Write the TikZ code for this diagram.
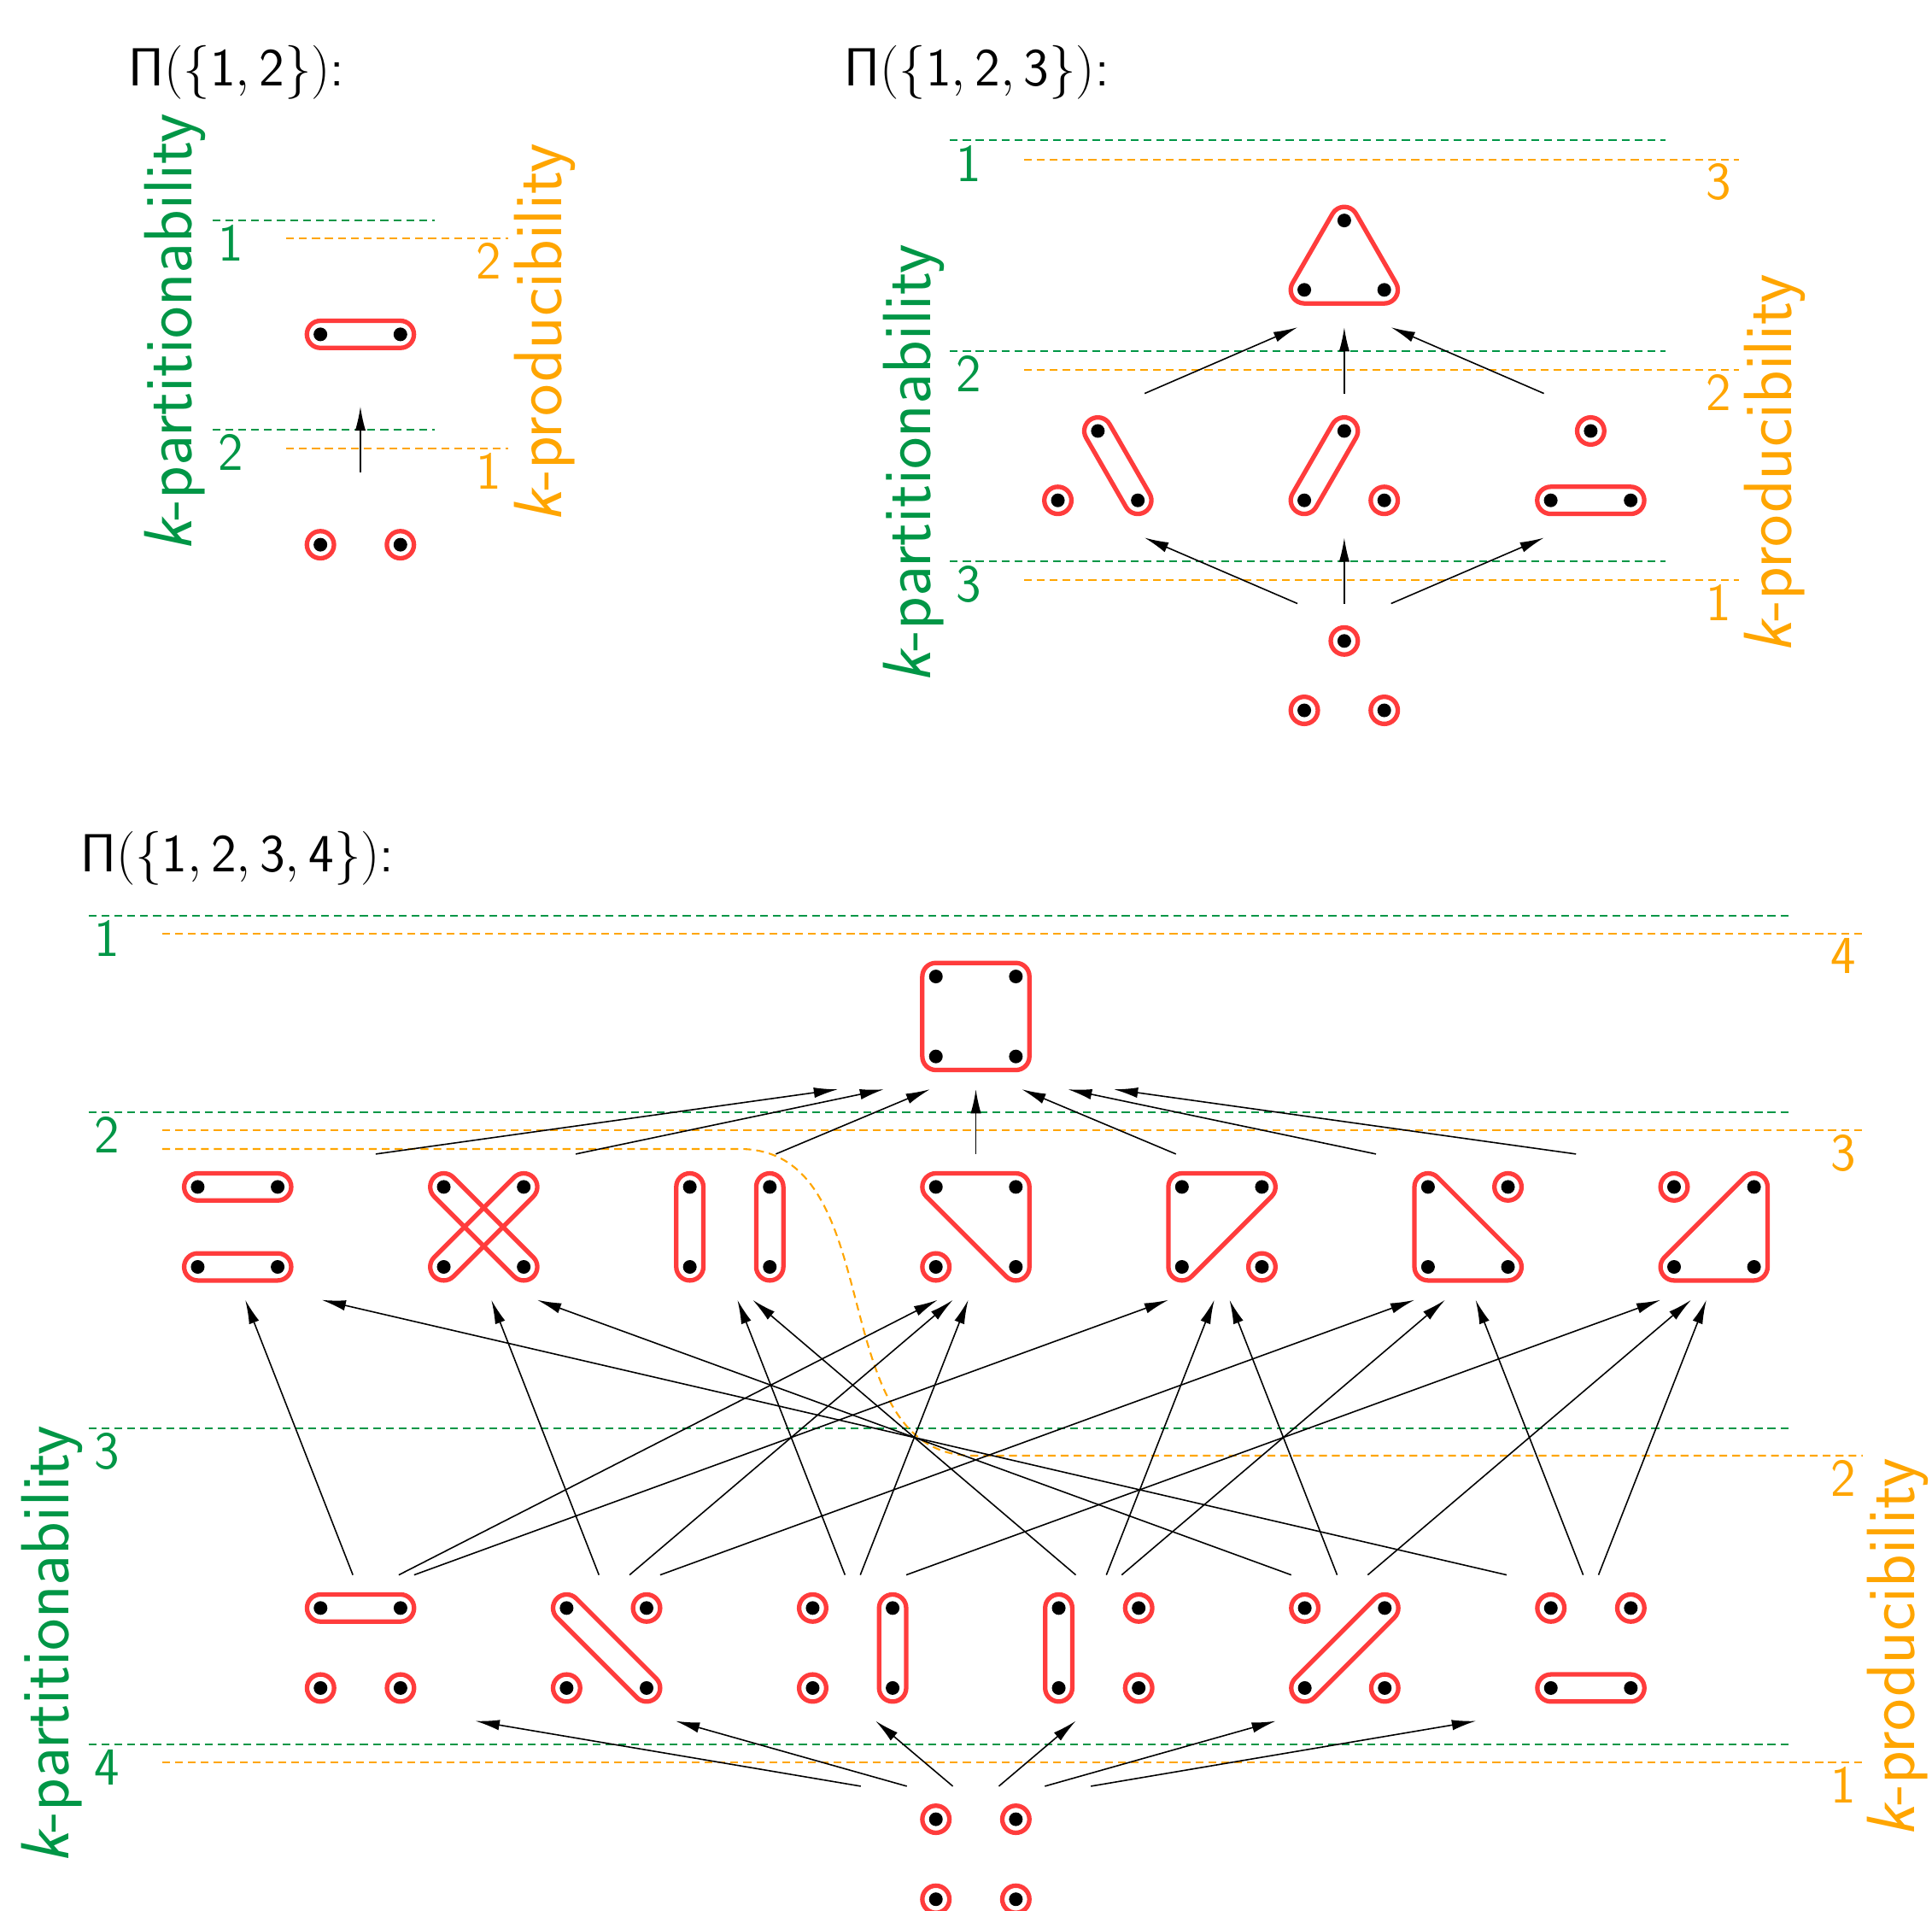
\RequirePackage{fix-cm}
\documentclass[tikz,border=0pt]{standalone}
\usetikzlibrary{calc,arrows.meta}
\definecolor{pgreen}{RGB}{0,150,70}
\definecolor{porange}{RGB}{255,165,0}
\definecolor{pred}{RGB}{255,60,60}
\newcommand\ringr{0.1587cm}
\newcommand\dotr{0.08cm}
\newcommand\labfont{\fontsize{17.8}{21}\selectfont\sffamily}
\newcommand\ttlfont{\fontsize{17.9}{22}\selectfont\sffamily}
\newcommand\axfont{\fontsize{22.7}{27}\selectfont\sffamily}
\tikzset{
  blk/.style={draw=pred, line width=1.5pt},
  arr/.style={-{Latex[length=8pt,width=3.5pt]}, line width=0.45pt},
  gline/.style={draw=pgreen, line width=0.6pt, dash pattern=on 2.6pt off 1.7pt},
  oline/.style={draw=porange, line width=0.6pt, dash pattern=on 2.6pt off 1.7pt},
  glab/.style={text=pgreen, font=\labfont, inner sep=0pt},
  olab/.style={text=porange, font=\labfont, inner sep=0pt},
  axg/.style={text=pgreen, font=\axfont, rotate=90, inner sep=0pt},
  axo/.style={text=porange, font=\axfont, rotate=90, inner sep=0pt},
  ttl/.style={font=\ttlfont, inner sep=0pt, anchor=base west}
}
\newcommand\ringat[1]{\draw[blk] (#1) circle[radius=\ringr];}
\newcommand\dotat[1]{\fill (#1) circle[radius=\dotr];}
\newcommand\caps[2]{%
  \draw[blk] let \p1=(#1), \p2=(#2), \n1={atan2(\y2-\y1,\x2-\x1)}, \n2={\n1+90}, \n3={\n1-90} in
  ($(\p1)+(\n2:\ringr)$) -- ($(\p2)+(\n2:\ringr)$) arc[start angle=\n2, delta angle=-180, radius=\ringr]
  -- ($(\p1)+(\n3:\ringr)$) arc[start angle=\n3, delta angle=-180, radius=\ringr] -- cycle;}
\newcommand\tri[3]{%
  \draw[blk] let \p1=(#1), \p2=(#2), \p3=(#3),
   \n1={atan2(\y2-\y1,\x2-\x1)-90}, \n2={atan2(\y3-\y2,\x3-\x2)-90}, \n3={atan2(\y1-\y3,\x1-\x3)-90},
   \n4={mod(\n2-\n1+720,360)}, \n5={mod(\n3-\n2+720,360)}, \n6={mod(\n1-\n3+720,360)} in
  ($(\p1)+(\n1:\ringr)$) -- ($(\p2)+(\n1:\ringr)$) arc[start angle=\n1, delta angle=\n4, radius=\ringr]
  -- ($(\p3)+(\n2:\ringr)$) arc[start angle=\n2, delta angle=\n5, radius=\ringr]
  -- ($(\p1)+(\n3:\ringr)$) arc[start angle=\n3, delta angle=\n6, radius=\ringr] -- cycle;}
\newcommand\quadpts[3]{%
  \coordinate (#1) at (#2,#3);
  \coordinate (#1a) at ($(#1)+(-32.45,-32.45)$);
  \coordinate (#1b) at ($(#1)+(32.45,-32.45)$);
  \coordinate (#1c) at ($(#1)+(-32.45,32.45)$);
  \coordinate (#1d) at ($(#1)+(32.45,32.45)$);
  \coordinate (#1N) at ($(#1)+(0,-43.45)$);
  \coordinate (#1S) at ($(#1)+(0,43.45)$);
  \foreach \q in {a,b,c,d}{\dotat{#1\q}}}
\newcommand\tripts[3]{%
  \coordinate (#1t) at (#2,#3);
  \coordinate (#1) at ($(#1t)+(0,28.15)$);
  \coordinate (#1l) at ($(#1t)+(-32.45,56.3)$);
  \coordinate (#1r) at ($(#1t)+(32.45,56.3)$);
  \coordinate (#1N) at ($(#1t)+(0,-14)$);
  \coordinate (#1S) at ($(#1t)+(0,70.3)$);
  \foreach \q in {t,l,r}{\dotat{#1\q}}}
\newcommand\pairpts[3]{%
  \coordinate (#1) at (#2,#3);
  \coordinate (#1l) at ($(#1)+(-32.45,0)$);
  \coordinate (#1r) at ($(#1)+(32.45,0)$);
  \coordinate (#1N) at ($(#1)+(0,-11)$);
  \coordinate (#1S) at ($(#1)+(0,11)$);
  \foreach \q in {l,r}{\dotat{#1\q}}}
\newcommand\arrw[4]{\draw[arr] ($(#1)!#3!(#2)$) -- ($(#1)!#4!(#2)$);}
\newcommand\gl[3]{\draw[gline] (#1,#3) -- (#2,#3);}
\newcommand\ol[3]{\draw[oline] (#1,#3) -- (#2,#3);}
\begin{document}
\begin{tikzpicture}[x=0.014426cm, y=-0.014426cm]
\useasboundingbox (0,0) rectangle (1568,1550.6);

%% ---------------- Pi({1,2}) ----------------
\node[ttl] (tltitle) at (104,70) {$\mathsf{\Pi(\{1,2\})}$:};
\gl{172.5}{352.5}{178.6} \gl{172.5}{352.5}{348.7}
\ol{232.3}{412.5}{193.1} \ol{232.3}{412.5}{363.8}
\node[glab] (tlg1) at (187.5,197.1) {1};
\node[glab] (tlg2) at (187.5,367.2) {2};
\node[olab] (tlo2) at (396.5,211.6) {2};
\node[olab] (tlo1) at (396.5,382.3) {1};
\node[axg] (tlpart) at (142.3,269.9) {{\slshape k}-partitionability};
\node[axo] (tlprod) at (442,270) {{\slshape k}-producibility};
\pairpts{LT}{292.5}{271.3} \caps{LTl}{LTr}
\pairpts{LB}{292.5}{442} \ringat{LBl} \ringat{LBr}
\arrw{LBN}{LTS}{0.32}{0.68}

%% ---------------- Pi({1,2,3}) ----------------
\node[ttl] (trtitle) at (685,70) {$\mathsf{\Pi(\{1,2,3\})}$:};
\gl{771}{1351.5}{113.9} \gl{771}{1351.5}{284.7} \gl{771}{1351.5}{455.5}
\ol{831}{1411.5}{129.4} \ol{831}{1411.5}{300.2} \ol{831}{1411.5}{470.4}
\node[glab] (trg1) at (786,132.4) {1};
\node[glab] (trg2) at (786,303.2) {2};
\node[glab] (trg3) at (786,474) {3};
\node[olab] (tro3) at (1395,147.9) {3};
\node[olab] (tro2) at (1395,318.7) {2};
\node[olab] (tro1) at (1395,488.9) {1};
\node[axg] (trpart) at (741.5,376) {{\slshape k}-partitionability};
\node[axo] (trprod) at (1440.7,376) {{\slshape k}-producibility};
\tripts{TT}{1091}{178.9} \tri{TTt}{TTl}{TTr}
\tripts{TA}{891}{349.7} \caps{TAt}{TAr} \ringat{TAl}
\tripts{TB}{1091}{349.7} \caps{TBt}{TBl} \ringat{TBr}
\tripts{TC}{1291}{349.7} \caps{TCl}{TCr} \ringat{TCt}
\tripts{TZ}{1091}{520.1} \ringat{TZt} \ringat{TZl} \ringat{TZr}
\foreach \n in {TA,TB,TC}{\arrw{TZN}{\n S}{0.19}{0.81} \arrw{\n N}{TTS}{0.19}{0.81}}

%% ---------------- Pi({1,2,3,4}) ----------------
\node[ttl] (btitle) at (65,707.6) {$\mathsf{\Pi(\{1,2,3,4\})}$:};
\gl{72}{1451.5}{742.9} \gl{72}{1451.5}{902.3} \gl{72}{1451.5}{1159} \gl{72}{1451.5}{1415.4}
\ol{131.7}{1511.8}{757.4} \ol{131.7}{1511.8}{917.3} \ol{131.7}{1511.8}{1430.1}
\draw[oline] (131.7,932.3) -- (600,932.3) .. controls (725,932.3) and (665,1181.2) .. (790,1181.2) -- (1511.8,1181.2);
\node[glab] (bg1) at (87,761.4) {1};
\node[glab] (bg2) at (87,920.8) {2};
\node[glab] (bg3) at (87,1177.5) {3};
\node[glab] (bg4) at (87,1433.9) {4};
\node[olab] (bo4) at (1496,775.9) {4};
\node[olab] (bo3) at (1496,935.8) {3};
\node[olab] (bo2) at (1496,1199.7) {2};
\node[olab] (bo1) at (1496,1448.6) {1};
\node[axg] (bpart) at (42.5,1334.5) {{\slshape k}-partitionability};
\node[axo] (bprod) at (1540.5,1336.8) {{\slshape k}-producibility};

% top: one block
\quadpts{Q}{792}{824.8}
\draw[blk, rounded corners=\ringr] ($(Qa)+(-\ringr,\ringr)$) rectangle ($(Qd)+(\ringr,-\ringr)$);
% two blocks
\quadpts{P1}{192.9}{995.55} \caps{P1a}{P1b} \caps{P1c}{P1d}
\quadpts{P2}{392.6}{995.55} \caps{P2a}{P2d} \caps{P2b}{P2c}
\quadpts{P3}{592.3}{995.55} \caps{P3a}{P3c} \caps{P3b}{P3d}
\quadpts{P4}{792.0}{995.55} \tri{P4b}{P4a}{P4d} \ringat{P4c}
\quadpts{P5}{991.7}{995.55} \tri{P5a}{P5c}{P5b} \ringat{P5d}
\quadpts{P6}{1191.4}{995.55} \tri{P6a}{P6c}{P6d} \ringat{P6b}
\quadpts{P7}{1391.1}{995.55} \tri{P7c}{P7d}{P7b} \ringat{P7a}
% three blocks
\quadpts{R1}{292.6}{1337.25} \caps{R1a}{R1b} \ringat{R1c} \ringat{R1d}
\quadpts{R2}{492.3}{1337.25} \caps{R2a}{R2d} \ringat{R2b} \ringat{R2c}
\quadpts{R3}{692.0}{1337.25} \caps{R3b}{R3d} \ringat{R3a} \ringat{R3c}
\quadpts{R4}{891.7}{1337.25} \caps{R4a}{R4c} \ringat{R4b} \ringat{R4d}
\quadpts{R5}{1091.4}{1337.25} \caps{R5b}{R5c} \ringat{R5a} \ringat{R5d}
\quadpts{R6}{1291.1}{1337.25} \caps{R6c}{R6d} \ringat{R6a} \ringat{R6b}
% four blocks
\quadpts{Z}{792}{1508.65} \ringat{Za} \ringat{Zb} \ringat{Zc} \ringat{Zd}

% arrows
\foreach \k in {1,...,6}{\arrw{ZN}{R\k S}{0.187}{0.813}}
\foreach \c/\p in {1/1,1/4,1/5, 2/2,2/4,2/6, 3/3,3/4,3/7, 4/3,4/5,4/6, 5/2,5/5,5/7, 6/1,6/6,6/7}
  {\arrw{R\c N}{P\p S}{0.0622}{0.9378}}
\foreach \k in {1,...,7}{\arrw{P\k N}{QS}{0.187}{0.813}}
\end{tikzpicture}
\end{document}
